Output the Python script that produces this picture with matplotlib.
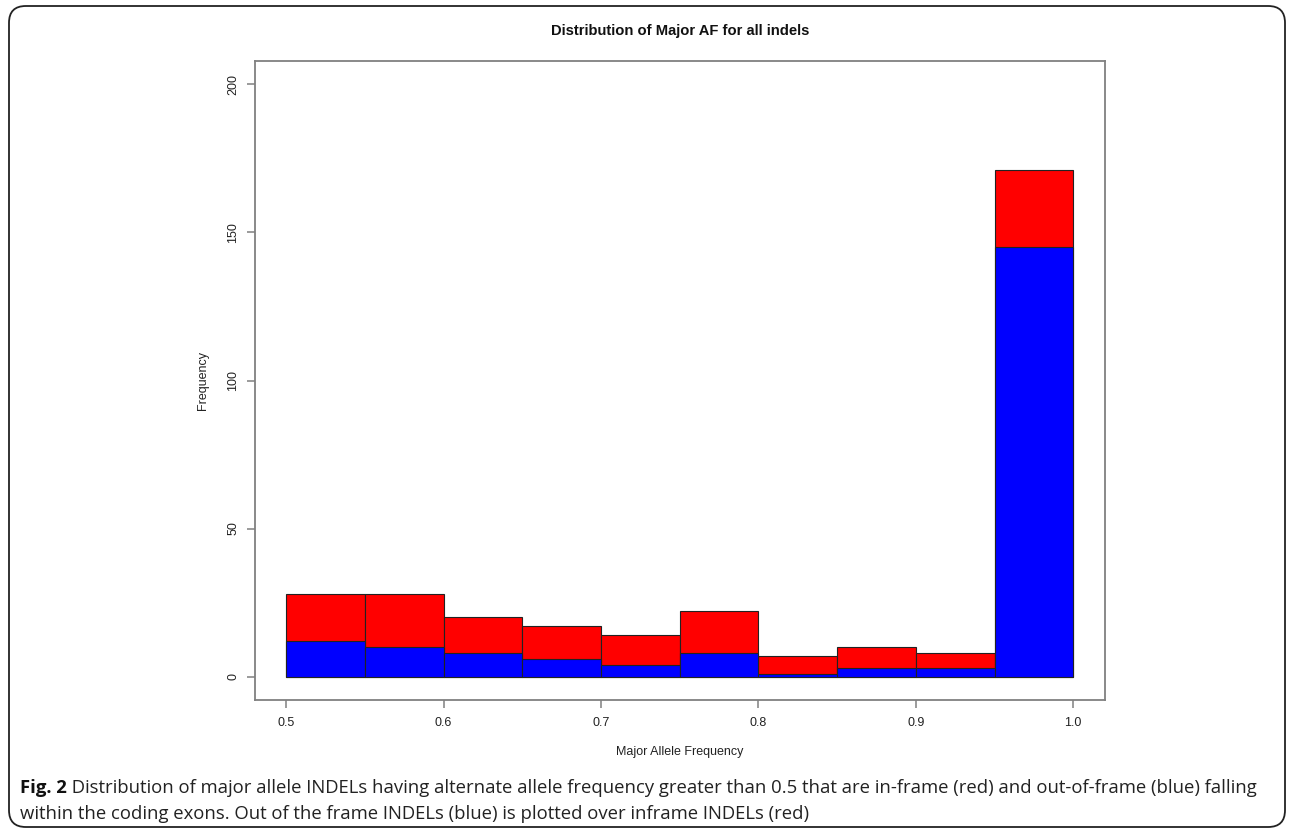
import matplotlib
matplotlib.use("Agg")
import matplotlib.pyplot as plt
from matplotlib.patches import FancyBboxPatch
import numpy as np

# Histogram bins of major allele frequency
bin_edges = [0.50, 0.55, 0.60, 0.65, 0.70, 0.75, 0.80, 0.85, 0.90, 0.95, 1.00]
inframe_counts = [28, 28, 20, 17, 14, 22, 7, 10, 8, 171]
outframe_counts = [12, 10, 8, 6, 4, 8, 1, 3, 3, 145]

x_ticks = [0.5, 0.6, 0.7, 0.8, 0.9, 1.0]
x_tick_labels = ["0.5", "0.6", "0.7", "0.8", "0.9", "1.0"]
y_ticks = [0, 50, 100, 150, 200]
y_tick_labels = ["0", "50", "100", "150", "200"]

title = "Distribution of Major AF for all indels"
x_label = "Major Allele Frequency"
y_label = "Frequency"
caption_bold = "Fig. 2"
caption_line1 = (" Distribution of major allele INDELs having alternate allele frequency "
                 "greater than 0.5 that are in-frame (red) and out-of-frame (blue) falling")
caption_line2 = ("within the coding exons. Out of the frame INDELs (blue) is plotted "
                 "over inframe INDELs (red)")

W, H = 1293, 831
fig = plt.figure(figsize=(W / 100, H / 100), dpi=100)
fig.patch.set_facecolor("white")

# Rounded frame around the whole figure panel
frame = FancyBboxPatch((9 / W, 4 / H), (1285 - 9) / W, (825 - 4) / H,
                       boxstyle="round,pad=0,rounding_size=0.013",
                       transform=fig.transFigure, fill=False,
                       edgecolor="#222222", linewidth=1.3,
                       mutation_aspect=W / H)
fig.patches.append(frame)

ax = fig.add_axes([254.7 / W, 1 - 700.3 / H, (1104.7 - 254.7) / W, (700.3 - 60.7) / H])

edges = np.array(bin_edges)
lefts = edges[:-1]
widths = np.diff(edges)

rc = {"family": ["Liberation Sans", "DejaVu Sans"]}
lab_size = 9.0

ax.bar(lefts, inframe_counts, width=widths, align="edge", color="#FF0000",
       edgecolor="#222222", linewidth=0.8, zorder=2)
ax.bar(lefts, outframe_counts, width=widths, align="edge", color="#0000FF",
       edgecolor="#222222", linewidth=0.8, zorder=3)

ax.set_xlim(0.48, 1.02)
ax.set_ylim(-8, 208)

for s in ax.spines.values():
    s.set_color("#808080")
    s.set_linewidth(1.3)

ax.set_xticks(x_ticks)
ax.set_xticklabels(x_tick_labels, fontsize=lab_size, color="#222222", **rc)
ax.set_yticks(y_ticks)
ax.set_yticklabels(y_tick_labels, fontsize=lab_size, color="#222222", rotation=90,
                   va="center", **rc)
ax.tick_params(axis="both", length=6, width=1.1, color="#808080", pad=6)
ax.tick_params(axis="y", pad=5)

fig.text(679.7 / W, 1 - 752 / H, x_label, ha="center", va="center",
         fontsize=lab_size, color="#222222", **rc)
fig.text(203 / W, 1 - 380 / H, y_label, ha="center", va="center", rotation=90,
         fontsize=lab_size, color="#222222", **rc)
fig.text(679.7 / W, 1 - 31 / H, title, ha="center", va="center",
         fontsize=10.6, fontweight="bold", color="#111111", **rc)

# Caption below the chart
cap_font = {"family": ["Open Sans", "DejaVu Sans"]}
cap_size = 13.3
t1 = fig.text(20 / W, 1 - 788 / H, caption_bold, ha="left", va="center",
              fontsize=cap_size, fontweight="bold", color="#111111", **cap_font)
fig.canvas.draw()
bb = t1.get_window_extent()
fig.text(bb.x1 / W, 1 - 788 / H, caption_line1, ha="left", va="center",
         fontsize=cap_size, color="#222222", **cap_font)
fig.text(20 / W, 1 - 814 / H, caption_line2, ha="left", va="center",
         fontsize=cap_size, color="#222222", **cap_font)

fig.savefig("out.png", dpi=100, facecolor="white")
